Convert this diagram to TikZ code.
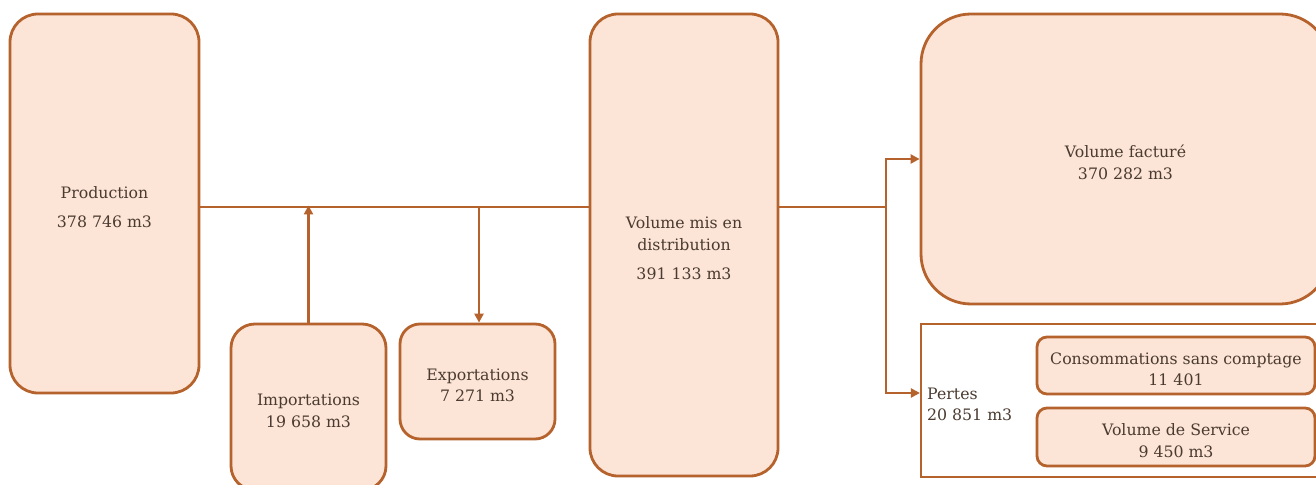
\documentclass[tikz,border=0pt]{standalone}
\usepackage{fontspec}
\setmainfont{DejaVu Serif}
\usetikzlibrary{arrows.meta,calc}
\definecolor{edgec}{HTML}{B5622C}
\definecolor{boxfill}{HTML}{FCE4D6}
\definecolor{txt}{HTML}{4A3A30}
\newcommand{\myup}{\rule{0pt}{19bp}}
\begin{document}
\begin{tikzpicture}[x=1bp,y=-1bp,
  box/.style={draw=edgec,fill=boxfill,line width=2.8bp,rounded corners=#1,text=txt,align=center,inner sep=0pt,font=\fontsize{15.8}{21.5}\selectfont},
  box/.default=28bp,
  conn/.style={draw=edgec,line width=2.8bp},
  arr/.style={conn,-{Triangle[length=9bp,width=9bp]}},
  plain/.style={text=txt,align=left,inner sep=0pt,font=\fontsize{15.8}{21.5}\selectfont}]
\useasboundingbox (0,0) rectangle (1316,485);
\fill[white] (0,0) rectangle (1316,485);
% boxes
\node[box, minimum width=189bp, minimum height=379bp] (prod) at (104.5,203.5) {\myup Production\\[7bp]378 746 m3};
\node[box=24bp, minimum width=155bp, minimum height=166bp] (imp) at (308.5,407) {\myup Importations\\19 658 m3};
\node[box=20bp, minimum width=155bp, minimum height=115bp] (exp) at (477.5,381.5) {\myup Exportations\\7 271 m3};
\node[box, minimum width=188bp, minimum height=462bp] (distrib) at (684,245) {\myup Volume mis en\\distribution\\[8bp]391 133 m3};
\node[box=50bp, minimum width=409bp, minimum height=290bp] (fact) at (1125.5,159) {\myup Volume facturé\\370 282 m3};
\node[draw=edgec, fill=white, line width=2.2bp, inner sep=0pt, minimum width=409bp, minimum height=153bp] (pbox) at (1125.5,400.5) {};
\node[plain, anchor=west] (pertes) at (927,404.5) {Pertes\\20 851 m3};
\node[box=10bp, minimum width=278bp, minimum height=57bp] (csc) at (1176,365.5) {\myup Consommations sans comptage\\11 401};
\node[box=10bp, minimum width=278bp, minimum height=58bp] (serv) at (1176,437) {\myup Volume de Service\\9 450 m3};
% connectors
\coordinate (busy) at (0,207);
\coordinate (py) at (0,393);
\coordinate (j) at (886,207);
\draw[conn] (prod.east |- busy) -- (distrib.west |- busy);
\draw[arr] (imp.north) -- ([yshift=1.5bp]imp.north |- busy);
\draw[arr] (479,207) coordinate (ex) -- (ex |- exp.north);
\draw[conn] (distrib.east |- busy) -- (j);
\draw[arr] (j) |- (fact.west);
\draw[arr] (j) |- (pbox.west |- py);
\end{tikzpicture}
\end{document}
